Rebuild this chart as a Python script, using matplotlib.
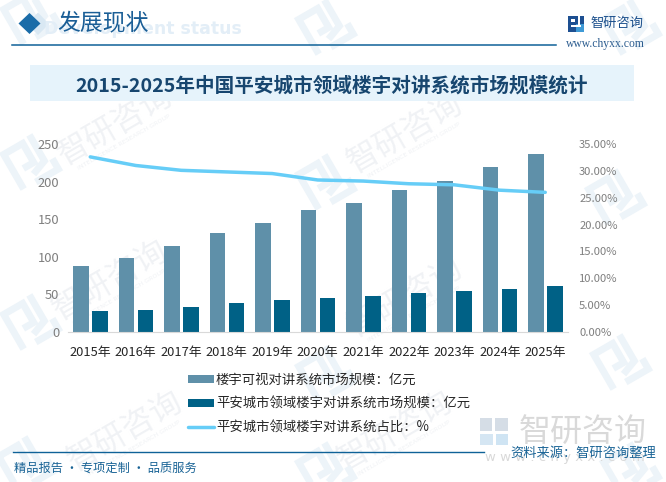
import math
import matplotlib
matplotlib.use("Agg")
import matplotlib.pyplot as plt
from matplotlib.patches import Rectangle, Polygon
from matplotlib.ticker import FuncFormatter

plt.rcParams['font.family'] = ['Noto Sans CJK SC', 'DejaVu Sans']

years = ['2015年','2016年','2017年','2018年','2019年','2020年','2021年','2022年','2023年','2024年','2025年']
video_market = [87.8, 98.4, 114.4, 131.6, 145, 162, 171.5, 188.8, 200.8, 219.4, 236.7]
safecity_market = [27.9, 29.3, 33.2, 38.5, 42.5, 45.1, 47.9, 51.8, 54.5, 57.1, 61]
share_pct = [32.6, 31.0, 30.1, 29.8, 29.5, 28.3, 28.1, 27.6, 27.4, 26.4, 26.0]
left_ticks = [0, 50, 100, 150, 200, 250]
right_ticks = [0, 5, 10, 15, 20, 25, 30, 35]
title = '2015-2025年中国平安城市领域楼宇对讲系统市场规模统计'
legend_labels = ['楼宇可视对讲系统市场规模：亿元', '平安城市领域楼宇对讲系统市场规模：亿元', '平安城市领域楼宇对讲系统占比：%']

W, H = 666, 482
fig = plt.figure(figsize=(W/100, H/100), dpi=100, facecolor='white')

bg = fig.add_axes([0, 0, 1, 1], zorder=0)
bg.set_xlim(0, W); bg.set_ylim(H, 0); bg.axis('off')

# watermarks
WM = '#f0f2f5'
for cx, cy in [(115, 125), (405, 133), (110, 280), (405, 297), (125, 431), (395, 431)]:
    bg.text(cx, cy, '智研咨询', fontsize=23, color=WM, rotation=30, ha='center', va='center',
            rotation_mode='anchor', zorder=1)
    bg.text(cx+9, cy+17, 'INTELLIGENCE RESEARCH GROUP', fontsize=4.6, color=WM, rotation=30, ha='center',
            va='center', rotation_mode='anchor', family=['DejaVu Sans'], zorder=1)

def mark(cx, cy, s=1.0, color='#edf4f9'):
    a = math.radians(-30)
    def r(pts):
        xs = [cx + s*(x*math.cos(a) - y*math.sin(a)) for x, y in pts]
        ys = [cy + s*(x*math.sin(a) + y*math.cos(a)) for x, y in pts]
        return xs, ys
    for pts in ([(-20, 22), (-20, -18), (2, -18), (2, 4), (-10, 4)],
                [(12, -22), (12, 8), (-4, 14)],
                [(-6, 22), (20, 22), (20, 10)]):
        xs, ys = r(pts)
        bg.plot(xs, ys, color=color, lw=5*s, solid_capstyle='butt', solid_joinstyle='miter', zorder=1)

for cx, cy in [(30, 15), (325, 25), (630, 25), (30, 160), (325, 180), (615, 195),
               (30, 320), (325, 372), (620, 360), (25, 462), (325, 468), (630, 468)]:
    mark(cx, cy)

# header
bg.add_patch(Polygon([(38, 12.5), (49, 24), (38, 35), (27, 24)], color='#d9e8f3', zorder=2, lw=0))
bg.add_patch(Polygon([(29.5, 13), (40.5, 23.5), (29.5, 34), (18.5, 23.5)], color='#1a6ca8', zorder=3, lw=0))
bg.text(242, 29, 'Development status', fontsize=12.5, fontweight='bold', color='#e3eef7',
        family=['DejaVu Sans'], ha='right', va='center', zorder=2)
bg.text(57, 23, '发展现状', fontsize=16.5, color='#1a5e96', va='center', zorder=3, family=['Noto Sans CJK SC'])
bg.plot([11.5, 556], [44.5, 44.5], color='#0f6298', lw=1.1, zorder=3)

# logo
bg.add_patch(Rectangle((568, 16), 16, 15.5, color='#1d4f91', lw=0, zorder=3))
bg.add_patch(Rectangle((576, 24), 8, 7.5, color='#3f9ad6', lw=0, zorder=3))
bg.add_patch(Rectangle((571, 19), 3.5, 3, color='white', lw=0, zorder=4))
bg.add_patch(Rectangle((578, 16), 1.8, 10, color='white', lw=0, zorder=4))
bg.add_patch(Rectangle((571, 25), 10, 1.8, color='white', lw=0, zorder=4))
bg.text(590, 23, '智研咨询', fontsize=9.5, color='#1b4f8c', va='center', zorder=3)
bg.text(605, 43.5, 'www.chyxx.com', fontsize=8.4, color='#2b5c8f', ha='center', va='center',
        family=['Liberation Serif'], zorder=3)

# title band
bg.add_patch(Rectangle((30, 64.5), 604, 36.5, color='#e6f3fb', lw=0, zorder=2))
bg.text(332, 86, title, fontsize=14.1, fontweight='bold', color='#17466f', ha='center', va='center', zorder=3)

# footer
bg.add_patch(Rectangle((480, 418), 12, 13, color='#d5dde6', lw=0, zorder=2))
bg.add_patch(Rectangle((495, 418), 13, 13, color='#d5dde6', lw=0, zorder=2))
bg.add_patch(Rectangle((480, 434), 13, 11, color='#d5e6f3', lw=0, zorder=2))
bg.add_patch(Rectangle((496, 434), 12, 11, color='#cfe4f3', lw=0, zorder=2))
bg.text(583, 432, '智研咨询', fontsize=23, color='#d9d9d9', ha='center', va='center', zorder=2)
bg.text(565, 457, 'w w w . c h y x x . c o m', fontsize=9.5, color='#d9d9d9', ha='center', va='center',
        family=['DejaVu Sans'], zorder=2)
bg.plot([13, 484], [452, 452], color='#0f6298', lw=1.0, zorder=3)
bg.text(14, 468, '精品报告 · 专项定制 · 品质服务', fontsize=8.8, color='#1a6496', va='center', zorder=3)
bg.text(656, 453, '资料来源：智研咨询整理', fontsize=9.5, color='#1a6496', ha='right', va='center', zorder=3)

# chart
ax_l, ax_r, ax_t, ax_b = 67.5, 568, 144, 332
ax = fig.add_axes([ax_l/W, 1-ax_b/H, (ax_r-ax_l)/W, (ax_b-ax_t)/H], zorder=2)
ax.patch.set_alpha(0)
xs = list(range(len(years)))
bw = 15.5/45.5
off = 9.5/45.5
ax.bar([x-off for x in xs], video_market, width=bw, color='#5f90a9', label=legend_labels[0], zorder=2)
ax.bar([x+off for x in xs], safecity_market, width=bw, color='#006186', label=legend_labels[1], zorder=2)
ax.set_xlim(-0.5, len(years)-0.5)
ax.set_ylim(0, 250)
ax.set_yticks(left_ticks)
ax.set_xticks(xs, years)
for s in ['top', 'left', 'right']:
    ax.spines[s].set_visible(False)
ax.spines['bottom'].set_color('#d9d9d9')
ax.tick_params(axis='x', length=0, labelsize=9.3, labelcolor='#262626', pad=10)
ax.tick_params(axis='y', length=0, labelsize=9.3, labelcolor='#7f7f7f', pad=6)

ax2 = ax.twinx()
ax2.patch.set_alpha(0)
ax2.plot(xs, share_pct, color='#66cdf7', lw=2.5, solid_capstyle='round', solid_joinstyle='round',
         label=legend_labels[2], zorder=3)
ax2.set_ylim(0, 35)
ax2.set_yticks(right_ticks)
ax2.yaxis.set_major_formatter(FuncFormatter(lambda v, _: f'{v:.2f}%'))
for s in ax2.spines.values():
    s.set_visible(False)
ax2.tick_params(axis='y', length=0, labelsize=8.1, labelcolor='#7f7f7f', pad=8)

h1, l1 = ax.get_legend_handles_labels()
h2, l2 = ax2.get_legend_handles_labels()
fig.legend(h1+h2, l1+l2, loc='upper left', bbox_to_anchor=(188/W, 1-372.5/H), ncol=1, frameon=False,
           fontsize=9.6, labelcolor='#262626', handlelength=1.95, handleheight=0.5, handletextpad=0.15,
           labelspacing=0.75, borderpad=0, borderaxespad=0)

fig.savefig('out.png', dpi=100)
